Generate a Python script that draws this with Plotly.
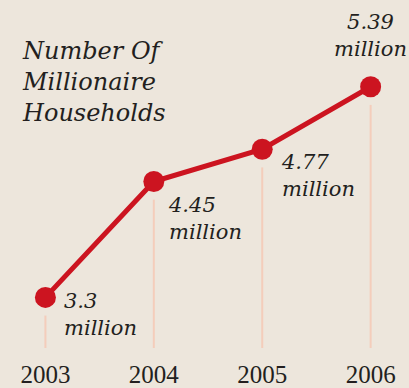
import plotly.graph_objects as go

years = [2003, 2004, 2005, 2006]
values = [3.3, 4.45, 4.77, 5.39]
value_labels = ["3.3", "4.45", "4.77", "5.39"]
title_lines = ["Number Of", "Millionaire", "Households"]

BG = "#EDE6DC"
RED = "#CC1420"
PINK = "#F4CDBB"
INK = "#231F20"
SERIF = "Liberation Serif"
ITALIC = "DejaVu Serif"

gap = 0.18      # gap between marker and pink stem, in value units
floor = 2.78    # bottom end of the stems

stem_x, stem_y = [], []
for x, v in zip(years, values):
    stem_x += [x, x, None]
    stem_y += [v - gap, floor, None]

fig = go.Figure()
fig.add_trace(go.Scatter(x=stem_x, y=stem_y, mode="lines",
                         line=dict(color=PINK, width=2), hoverinfo="skip",
                         cliponaxis=False))
fig.add_trace(go.Scatter(x=years, y=values, mode="lines+markers",
                         line=dict(color=RED, width=5),
                         marker=dict(color=RED, size=21),
                         cliponaxis=False))

# value annotations
offsets = [  # (xanchor, yanchor, xshift, yshift, align)
    ("left", "top", 17, 10, "left"),
    ("left", "top", 12, -9, "left"),
    ("left", "top", 17, 1, "left"),
    ("center", "bottom", 0, 24, "center"),
]
for (x, v, lab), (xa, ya, xs, ys, al) in zip(zip(years, values, value_labels), offsets):
    fig.add_annotation(x=x, y=v, xref="x", yref="y", text=f"<i>{lab}<br>million</i>",
                       showarrow=False, xanchor=xa, yanchor=ya, xshift=xs, yshift=ys,
                       align=al, font=dict(family=ITALIC, size=21, color=INK))

fig.add_annotation(x=0, y=1, xref="paper", yref="paper",
                   text="<i>" + "<br>".join(title_lines) + "</i>",
                   showarrow=False, xanchor="left", yanchor="top", xshift=20, yshift=-35,
                   align="left", font=dict(family=ITALIC, size=24, color=INK))

fig.update_layout(
    width=409, height=388,
    margin=dict(l=0, r=0, t=0, b=40),
    paper_bgcolor=BG, plot_bgcolor=BG,
    showlegend=False,
    xaxis=dict(range=[2002.581, 2006.354], showgrid=False, zeroline=False,
               showline=False, tickvals=years, ticktext=[str(y) for y in years],
               tickfont=dict(family=SERIF, size=25, color=INK), ticks="",
               ticklabelstandoff=9, fixedrange=True),
    yaxis=dict(range=[2.798, 6.251], showgrid=False, zeroline=False,
               showline=False, showticklabels=False, ticks="", fixedrange=True),
)

fig.write_html("out.html")
